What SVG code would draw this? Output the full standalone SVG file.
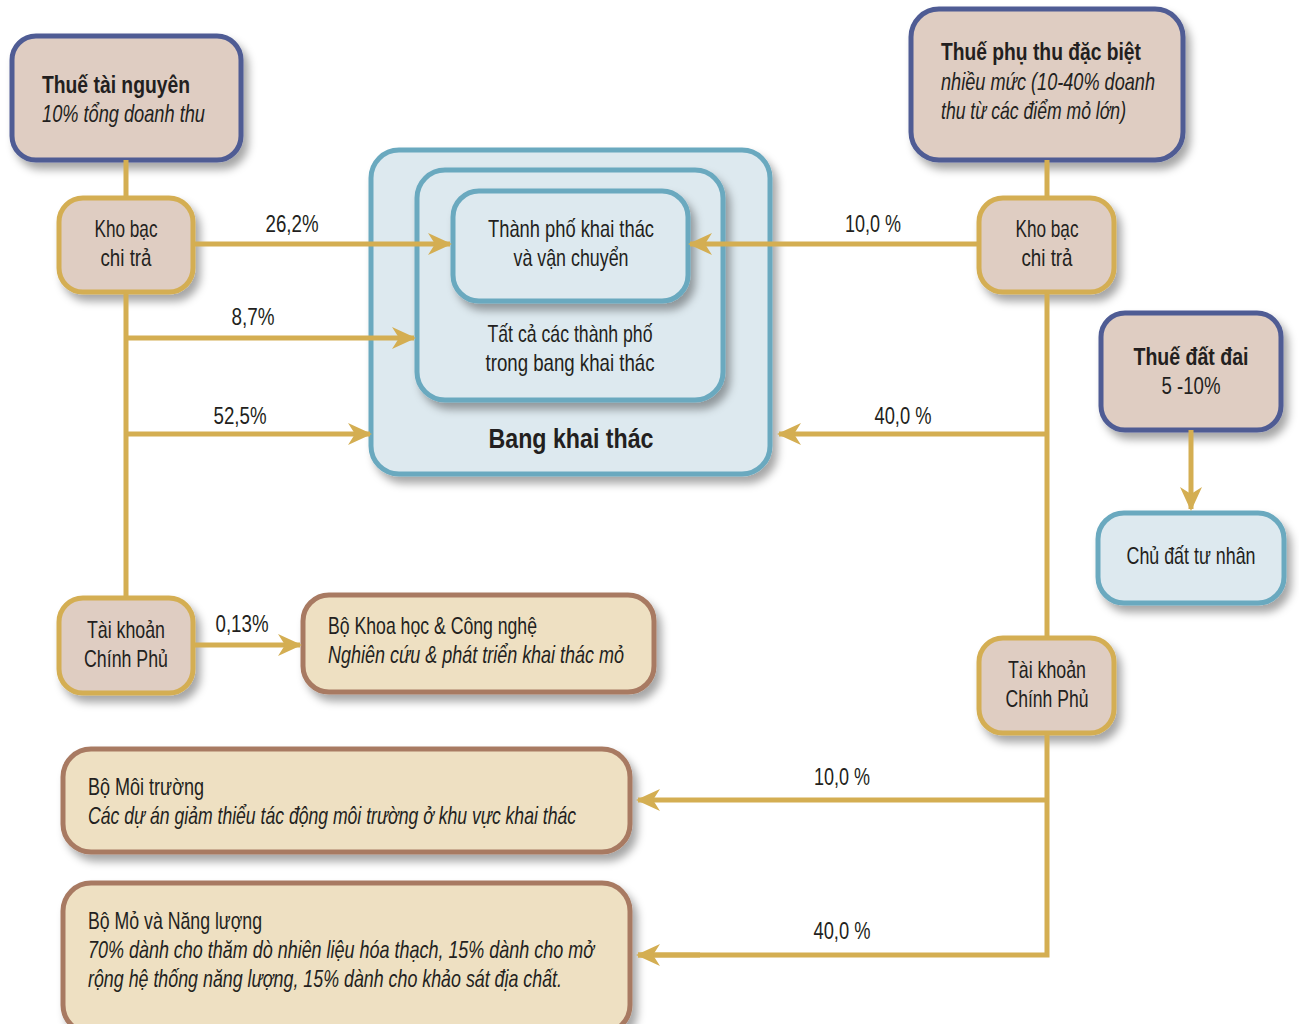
<svg xmlns="http://www.w3.org/2000/svg" width="1299" height="1024" viewBox="0 0 1299 1024">
  <style>
    text { font-family: "Liberation Sans", Arial, sans-serif; fill: #231f20; font-size: 24px; }
    .b { font-weight: bold; }
    .i { font-style: italic; }
    .c { text-anchor: middle; }
    .lbl { font-size: 23px; }
    .tax { fill: #dfcdc2; stroke: #4f5b94; stroke-width: 5; }
    .fund { fill: #dfcdc2; stroke: #d4ae52; stroke-width: 5; }
    .state { fill: #dde9ef; stroke: #6aa9bf; stroke-width: 5; }
    .dept { fill: #eee0c2; stroke: #a87a62; stroke-width: 5; }
    .flow { fill: none; stroke: #d4ae52; stroke-width: 5; }
  </style>
  <defs>
    <filter id="shadow" x="-10%" y="-10%" width="130%" height="140%">
      <feDropShadow dx="5" dy="7" stdDeviation="4" flood-color="#000" flood-opacity="0.35"/>
    </filter>
    <marker id="arrow" viewBox="0 0 24 24" refX="22" refY="12" markerWidth="24" markerHeight="24" markerUnits="userSpaceOnUse" orient="auto">
      <path d="M0,1 L24,12 L0,23 L7,12 Z" fill="#d4ae52"/>
    </marker>
  </defs>

  <!-- state of mining -->
  <g id="bang-khai-thac">
    <rect class="state" x="371" y="150" width="399" height="324" rx="28" filter="url(#shadow)"/>
    <text class="b c" x="571" y="448" style="font-size:28px" textLength="165" lengthAdjust="spacingAndGlyphs">Bang khai thác</text>
  </g>
  <g id="tat-ca-thanh-pho">
    <rect class="state" x="417" y="170" width="306" height="230" rx="28" filter="url(#shadow)"/>
    <text class="c" x="570" y="342" textLength="165" lengthAdjust="spacingAndGlyphs">Tất cả các thành phố</text>
    <text class="c" x="570" y="371" textLength="169" lengthAdjust="spacingAndGlyphs">trong bang khai thác</text>
  </g>
  <g id="thanh-pho-khai-thac">
    <rect class="state" x="453" y="191" width="235" height="110" rx="26" filter="url(#shadow)"/>
    <text class="c" x="571" y="237" textLength="166" lengthAdjust="spacingAndGlyphs">Thành phố khai thác</text>
    <text class="c" x="571" y="266" textLength="115" lengthAdjust="spacingAndGlyphs">và vận chuyển</text>
  </g>

  <!-- left column -->
  <g id="thue-tai-nguyen">
    <rect class="tax" x="12" y="36" width="229" height="124" rx="24" filter="url(#shadow)"/>
    <text class="b" x="42" y="93" textLength="148" lengthAdjust="spacingAndGlyphs">Thuế tài nguyên</text>
    <text class="i" x="42" y="122" textLength="163" lengthAdjust="spacingAndGlyphs">10% tổng doanh thu</text>
  </g>
  <g id="kho-bac-trai">
    <rect class="fund" x="59" y="198" width="134" height="94" rx="24" filter="url(#shadow)"/>
    <text class="c" x="126" y="237" textLength="63" lengthAdjust="spacingAndGlyphs">Kho bạc</text>
    <text class="c" x="126" y="266" textLength="51" lengthAdjust="spacingAndGlyphs">chi trả</text>
  </g>
  <g id="tai-khoan-trai">
    <rect class="fund" x="59" y="598" width="134" height="95" rx="24" filter="url(#shadow)"/>
    <text class="c" x="126" y="638" textLength="78" lengthAdjust="spacingAndGlyphs">Tài khoản</text>
    <text class="c" x="126" y="667" textLength="84" lengthAdjust="spacingAndGlyphs">Chính Phủ</text>
  </g>
  <g id="bo-khoa-hoc">
    <rect class="dept" x="303" y="595" width="351" height="97" rx="26" filter="url(#shadow)"/>
    <text x="328" y="634" textLength="209" lengthAdjust="spacingAndGlyphs">Bộ Khoa học &amp; Công nghệ</text>
    <text class="i" x="328" y="663" textLength="296" lengthAdjust="spacingAndGlyphs">Nghiên cứu &amp; phát triển khai thác mỏ</text>
  </g>

  <!-- right column -->
  <g id="thue-phu-thu">
    <rect class="tax" x="911" y="9" width="272" height="151" rx="28" filter="url(#shadow)"/>
    <text class="b" x="941" y="60" textLength="200" lengthAdjust="spacingAndGlyphs">Thuế phụ thu đặc biệt</text>
    <text class="i" x="941" y="90" textLength="214" lengthAdjust="spacingAndGlyphs">nhiều mức (10-40% doanh</text>
    <text class="i" x="941" y="119" textLength="185" lengthAdjust="spacingAndGlyphs">thu từ các điểm mỏ lớn)</text>
  </g>
  <g id="kho-bac-phai">
    <rect class="fund" x="979" y="198" width="135" height="94" rx="24" filter="url(#shadow)"/>
    <text class="c" x="1047" y="237" textLength="63" lengthAdjust="spacingAndGlyphs">Kho bạc</text>
    <text class="c" x="1047" y="266" textLength="51" lengthAdjust="spacingAndGlyphs">chi trả</text>
  </g>
  <g id="thue-dat-dai">
    <rect class="tax" x="1101" y="313" width="180" height="117" rx="24" filter="url(#shadow)"/>
    <text class="b c" x="1191" y="365" textLength="115" lengthAdjust="spacingAndGlyphs">Thuế đất đai</text>
    <text class="c" x="1191" y="394" textLength="59" lengthAdjust="spacingAndGlyphs">5 -10%</text>
  </g>
  <g id="chu-dat">
    <rect class="state" x="1098" y="513" width="186" height="90" rx="26" filter="url(#shadow)"/>
    <text class="c" x="1191" y="564" textLength="129" lengthAdjust="spacingAndGlyphs">Chủ đất tư nhân</text>
  </g>
  <g id="tai-khoan-phai">
    <rect class="fund" x="979" y="638" width="135" height="95" rx="24" filter="url(#shadow)"/>
    <text class="c" x="1047" y="678" textLength="78" lengthAdjust="spacingAndGlyphs">Tài khoản</text>
    <text class="c" x="1047" y="707" textLength="83" lengthAdjust="spacingAndGlyphs">Chính Phủ</text>
  </g>

  <!-- bottom departments -->
  <g id="bo-moi-truong">
    <rect class="dept" x="63" y="749" width="567" height="103" rx="28" filter="url(#shadow)"/>
    <text x="88" y="795" textLength="116" lengthAdjust="spacingAndGlyphs">Bộ Môi trường</text>
    <text class="i" x="88" y="824" textLength="488" lengthAdjust="spacingAndGlyphs">Các dự án giảm thiểu tác động môi trường ở khu vực khai thác</text>
  </g>
  <g id="bo-mo-nang-luong">
    <rect class="dept" x="63" y="883" width="567" height="150" rx="28" filter="url(#shadow)"/>
    <text x="88" y="929" textLength="174" lengthAdjust="spacingAndGlyphs">Bộ Mỏ và Năng lượng</text>
    <text class="i" x="88" y="958" textLength="506" lengthAdjust="spacingAndGlyphs">70% dành cho thăm dò nhiên liệu hóa thạch, 15% dành cho mở</text>
    <text class="i" x="88" y="987" textLength="474" lengthAdjust="spacingAndGlyphs">rộng hệ thống năng lượng, 15% dành cho khảo sát địa chất.</text>
  </g>

  <!-- connectors, drawn over the boxes they cross -->
  <g id="connectors">
    <path class="flow" d="M126,160 V198 M126,292 V598"/>
    <path class="flow" d="M193,244 H450" marker-end="url(#arrow)"/>
    <path class="flow" d="M126,338 H414" marker-end="url(#arrow)"/>
    <path class="flow" d="M126,434 H370" marker-end="url(#arrow)"/>
    <path class="flow" d="M193,645 H300" marker-end="url(#arrow)"/>
    <path class="flow" d="M1047,160 V198 M1047,292 V638 M1047,733 V955 H638"/>
    <path class="flow" d="M979,244 H690" marker-end="url(#arrow)"/>
    <path class="flow" d="M1047,434 H779" marker-end="url(#arrow)"/>
    <path class="flow" d="M1047,800 H638" marker-end="url(#arrow)"/>
    <path class="flow" d="M700,955 H638" marker-end="url(#arrow)"/>
    <path class="flow" d="M1191,430 V509" marker-end="url(#arrow)"/>
    <text class="lbl c" x="292" y="232" textLength="53" lengthAdjust="spacingAndGlyphs">26,2%</text>
    <text class="lbl c" x="253" y="325" textLength="43" lengthAdjust="spacingAndGlyphs">8,7%</text>
    <text class="lbl c" x="240" y="424" textLength="53" lengthAdjust="spacingAndGlyphs">52,5%</text>
    <text class="lbl c" x="242" y="632" textLength="53" lengthAdjust="spacingAndGlyphs">0,13%</text>
    <text class="lbl c" x="873" y="232" textLength="56" lengthAdjust="spacingAndGlyphs">10,0 %</text>
    <text class="lbl c" x="903" y="424" textLength="57" lengthAdjust="spacingAndGlyphs">40,0 %</text>
    <text class="lbl c" x="842" y="785" textLength="56" lengthAdjust="spacingAndGlyphs">10,0 %</text>
    <text class="lbl c" x="842" y="939" textLength="57" lengthAdjust="spacingAndGlyphs">40,0 %</text>
  </g>
</svg>
